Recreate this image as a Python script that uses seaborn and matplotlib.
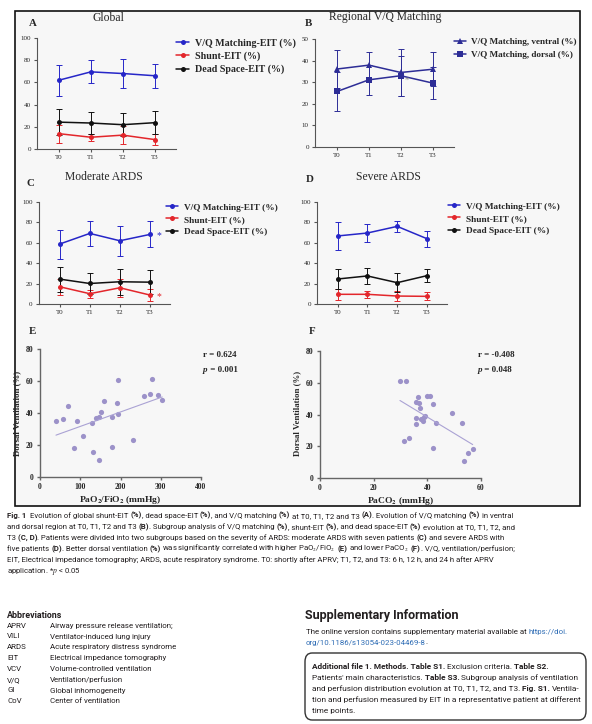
import numpy as np
import seaborn as sns
import matplotlib.pyplot as plt
from matplotlib.patches import Rectangle, FancyBboxPatch
from matplotlib.font_manager import FontProperties

W, H = 592, 724

# ---- chart data ----
times = ['T0', 'T1', 'T2', 'T3']

# A  global
glob_vq = [62.0, 69.5, 68.0, 66.0]
glob_vq_sd = [14.0, 10.3, 13.3, 10.8]
glob_shunt = [13.8, 10.6, 12.5, 8.5]
glob_shunt_sd = [8.0, 3.3, 8.0, 5.3]
glob_dead = [24.2, 23.4, 21.9, 23.7]
glob_dead_sd = [11.4, 9.8, 10.2, 10.3]

# B  regional V/Q matching
ventral = [36.1, 37.9, 34.5, 36.0]
ventral_sd = [9.0, 6.2, 10.8, 7.8]
dorsal = [25.7, 31.1, 33.0, 29.6]
dorsal_sd = [9.0, 7.0, 9.2, 7.3]

# C  moderate ARDS
mod_vq = [58.8, 69.2, 62.0, 68.2]
mod_vq_sd = [14.2, 12.0, 14.7, 12.8]
mod_shunt = [16.9, 10.1, 15.9, 8.8]
mod_shunt_sd = [7.8, 4.0, 8.8, 5.9]
mod_dead = [24.4, 20.1, 21.8, 21.4]
mod_dead_sd = [12.3, 10.1, 12.9, 11.7]

# D  severe ARDS
sev_vq = [66.7, 69.6, 76.1, 64.0]
sev_vq_sd = [13.5, 8.7, 5.5, 7.7]
sev_shunt = [9.5, 9.5, 7.8, 7.5]
sev_shunt_sd = [5.5, 3.5, 5.0, 4.0]
sev_dead = [24.5, 27.5, 20.9, 27.8]
sev_dead_sd = [9.8, 7.9, 9.5, 6.4]

# E  dorsal ventilation vs PaO2/FiO2
pf_ratio = [39.7, 56, 68.7, 91.8, 84.4, 105.9, 128.2, 131.5, 138.1, 146.4, 147.2, 150.5,
            158, 179.5, 177.8, 191.9, 192.7, 193.5, 230.8, 258.9, 272.1, 277.9, 292.8, 303.6]
dorsal_e = [34.9, 36, 44.1, 34.9, 18.2, 25.5, 33.6, 15.9, 37, 37.4, 10.4, 40.9,
            47.4, 37.8, 18.8, 46.4, 60.8, 39.1, 23.2, 50.8, 51.6, 61, 51.2, 48]

# F  dorsal ventilation vs PaCO2
paco2 = [29.8, 32, 31.3, 33, 35.7, 35.7, 35.8, 36.6, 36.8, 37.4, 37.6, 38.4,
         38.6, 39.1, 39.9, 41, 42.2, 42.1, 43.2, 49.1, 52.9, 53.5, 55.2, 56.9]
dorsal_f = [61.2, 60.8, 23.2, 25.5, 33.8, 37.6, 48, 50.8, 47.4, 44.3, 37, 36.1,
            38.2, 39.1, 51.8, 51.6, 46.4, 18.6, 34.9, 40.9, 34.9, 10.7, 15.9, 18.2]

stats_e = ['r = 0.624', '0.001']
stats_f = ['r = -0.408', '0.048']

# ---- page text ----
caption = [
    "**Fig. 1**  Evolution of global shunt-EIT **(%)**, dead space-EIT **(%)**, and V/Q matching **(%)** at T0, T1, T2 and T3 **(A)**. Evolution of V/Q matching **(%)** in ventral",
    "and dorsal region at T0, T1, T2 and T3 **(B)**. Subgroup analysis of V/Q matching **(%)**, shunt-EIT **(%)**, and dead space-EIT **(%)** evolution at T0, T1, T2, and",
    "T3 **(C, D)**. Patients were divided into two subgroups based on the severity of ARDS: moderate ARDS with seven patients **(C)** and severe ARDS with",
    "five patients **(D)**. Better dorsal ventilation **(%)** was significantly correlated with higher PaO$_2$/FiO$_2$ **(E)** and lower PaCO$_2$ **(F)**. V/Q, ventilation/perfusion;",
    "EIT, Electrical impedance tomography; ARDS, acute respiratory syndrome. T0: shortly after APRV; T1, T2, and T3: 6 h, 12 h, and 24 h after APRV",
    "application. *$p$ < 0.05",
]
abbr_keys = ['APRV', 'VILI', 'ARDS', 'EIT', 'VCV', 'V/Q', 'GI', 'CoV']
abbr_vals = ['Airway pressure release ventilation;', 'Ventilator-induced lung injury',
             'Acute respiratory distress syndrome', 'Electrical impedance tomography',
             'Volume-controlled ventilation', 'Ventilation/perfusion',
             'Global inhomogeneity', 'Center of ventilation']
supp_text = ["The online version contains supplementary material available at ", "https://doi.",
             "org/10.1186/s13054-023-04469-8", "."]
box_lines = [
    "**Additional file 1. Methods. Table S1.** Exclusion criteria. **Table S2.**",
    "Patients' main characteristics. **Table S3.** Subgroup analysis of ventilation",
    "and perfusion distribution evolution at T0, T1, T2, and T3. **Fig. S1.** Ventila-",
    "tion and perfusion measured by EIT in a representative patient at different",
    "time points.",
]

# ---- style ----
sns.set_style('ticks')
SERIF = ['Liberation Serif', 'DejaVu Serif']
SANS = ['Liberation Sans Narrow', 'Roboto', 'DejaVu Sans']
plt.rcParams['font.family'] = SERIF
plt.rcParams['mathtext.fontset'] = 'stix'

BLUE = '#2626c8'
RED = '#e3262b'
BLACK = '#111111'
NAVY = '#2d2d96'
LAV = '#9c92c9'
INK = '#231f20'

fig = plt.figure(figsize=(W / 100, H / 100), dpi=100)
renderer = fig.canvas.get_renderer()

fig.add_artist(Rectangle((15 / W, 1 - 506 / H), 565 / W, 495 / H, transform=fig.transFigure,
                         facecolor='#f7f7f7', edgecolor='#111111', lw=1.2, zorder=-5))


def measure(s, size, weight='normal', family=SANS, style='normal'):
    prop = FontProperties(family=family, size=size, weight=weight, style=style)

    def w(t):
        return renderer.get_text_width_height_descent(t, prop, ismath='$' in t)[0]
    return w('|' + s + '|') - w('||')


def parse(line, color=INK):
    return [(seg, 'bold' if i % 2 else 'normal', color)
            for i, seg in enumerate(line.split('**')) if seg]


def rich(x, y, segs, size, family=SANS):
    for seg, weight, color in segs:
        body = seg.lstrip()
        x += measure(seg[:len(seg) - len(body)], size, weight, family) if body != seg else 0
        if body:
            fig.text(x / W, 1 - y / H, body, fontsize=size, fontweight=weight, family=family,
                     color=color, ha='left', va='baseline')
        x += measure(body, size, weight, family)


def fit(segs, target, family=SANS):
    width = sum(measure(s, 10, w, family) for s, w, c in segs)
    return 10 * target / width


def px_axes(l, t, r, b):
    ax = fig.add_axes([l / W, 1 - b / H, (r - l) / W, (b - t) / H])
    ax.patch.set_alpha(0)
    return ax


def style_axes(ax, color='#555555', lw=0.8, labelsize=5, weight='normal'):
    sns.despine(ax=ax)
    for s in ['left', 'bottom']:
        ax.spines[s].set_color(color)
        ax.spines[s].set_linewidth(lw)
    ax.tick_params(length=2.5, width=lw, color=color, labelsize=labelsize, pad=2)
    for lab in ax.get_xticklabels() + ax.get_yticklabels():
        lab.set_fontweight(weight)
    ax.set_xlabel('')
    ax.set_ylabel('')


def line_panel(rect, series, ymax, ystep, legend_xy, legend_size, spacing):
    ax = px_axes(*rect)
    x = np.arange(len(times))
    for name, mean, sd, color, marker, ms in series:
        ax.errorbar(x, mean, yerr=sd, fmt='none', ecolor=color, elinewidth=0.7,
                    capsize=2, capthick=0.7, zorder=2)
        sns.lineplot(x=x, y=mean, ax=ax, color=color, marker=marker, markersize=ms,
                     markeredgewidth=0, linewidth=1.1, label=name, errorbar=None, zorder=3)
    ax.set_xlim(-0.69, 3.67)
    ax.set_ylim(0, ymax)
    ax.set_xticks(x, times)
    ax.set_yticks(np.arange(0, ymax + 1, ystep))
    style_axes(ax)
    ax.legend(loc='upper left', bbox_to_anchor=(legend_xy[0] / W, 1 - legend_xy[1] / H),
              bbox_transform=fig.transFigure, frameon=False, borderpad=0, borderaxespad=0,
              handlelength=1.3, handletextpad=0.6, labelspacing=spacing,
              prop=FontProperties(family=SERIF, weight='bold', size=legend_size))
    return ax


def scatter_panel(rect, x, y, xmax, xstep, stats, stat_x, xlabel, xlabel_xy, ylabel_x):
    ax = px_axes(*rect)
    sns.regplot(x=x, y=y, ax=ax, ci=None, color=LAV,
                scatter_kws={'s': 14, 'linewidths': 0, 'alpha': 1},
                line_kws={'lw': 0.8, 'color': '#aaa2d4'})
    ax.set_xlim(0, xmax)
    ax.set_ylim(0, 80)
    ax.set_xticks(np.arange(0, xmax + 1, xstep))
    ax.set_yticks(np.arange(0, 81, 20))
    style_axes(ax, color='#666666', lw=1.0, labelsize=5.5, weight='bold')
    fig.text(xlabel_xy[0] / W, 1 - xlabel_xy[1] / H, xlabel, ha='center', va='center',
             fontsize=6.8, fontweight='bold')
    fig.text(ylabel_x / W, 1 - 413 / H, 'Dorsal Ventilation (%)', rotation=90,
             ha='center', va='center', fontsize=6.3, fontweight='bold')
    fig.text(stat_x / W, 1 - 357 / H, stats[0], fontsize=6.5, fontweight='bold', va='baseline')
    fig.text(stat_x / W, 1 - 372 / H, 'p', fontsize=6.5, fontweight='bold', style='italic',
             va='baseline')
    px = stat_x + measure('p', 6.5, 'bold', SERIF, 'italic')
    fig.text(px / W, 1 - 372 / H, ' = ' + stats[1], fontsize=6.5, fontweight='bold',
             va='baseline')
    return ax


# ---- panels ----
ax_a = line_panel((37, 38, 176, 149),
                  [('V/Q Matching-EIT (%)', glob_vq, glob_vq_sd, BLUE, 'o', 3.6),
                   ('Shunt-EIT (%)', glob_shunt, glob_shunt_sd, RED, 'o', 3.6),
                   ('Dead Space-EIT (%)', glob_dead, glob_dead_sd, BLACK, 'o', 3.6)],
                  100, 20, (176, 38), 7.2, 0.38)

ax_b = line_panel((315, 39, 454, 147),
                  [('V/Q Matching, ventral (%)', ventral, ventral_sd, NAVY, '^', 4.2),
                   ('V/Q Matching, dorsal (%)', dorsal, dorsal_sd, NAVY, 's', 4.2)],
                  50, 10, (454, 38), 6.6, 0.45)
ax_b.text(2.2, 30.6, '*', color='#888888', fontsize=6, ha='center', va='center')

ax_c = line_panel((39, 202, 170, 304),
                  [('V/Q Matching-EIT (%)', mod_vq, mod_vq_sd, BLUE, 'o', 3.6),
                   ('Shunt-EIT (%)', mod_shunt, mod_shunt_sd, RED, 'o', 3.6),
                   ('Dead Space-EIT (%)', mod_dead, mod_dead_sd, BLACK, 'o', 3.6)],
                  100, 20, (166, 203), 6.7, 0.4)
ax_c.text(3.3, 67.5, '*', color=BLUE, fontsize=7, ha='center', va='center')
ax_c.text(3.3, 7.0, '*', color=RED, fontsize=7, ha='center', va='center')

ax_d = line_panel((317, 202, 447, 304),
                  [('V/Q Matching-EIT (%)', sev_vq, sev_vq_sd, BLUE, 'o', 3.6),
                   ('Shunt-EIT (%)', sev_shunt, sev_shunt_sd, RED, 'o', 3.6),
                   ('Dead Space-EIT (%)', sev_dead, sev_dead_sd, BLACK, 'o', 3.6)],
                  100, 20, (448, 202), 6.7, 0.4)

ax_e = scatter_panel((40, 349, 201, 477), pf_ratio, dorsal_e, 400, 100, stats_e, 203,
                     'PaO$_\\mathbf{2}$/FiO$_\\mathbf{2}$ (mmHg)', (120, 500), 17)
ax_f = scatter_panel((320, 351, 481, 478), paco2, dorsal_f, 60, 20, stats_f, 478,
                     'PaCO$_\\mathbf{2}$ (mmHg)', (400, 501), 297)

# titles and panel letters
for txt, x, y in [('Global', 108, 18), ('Regional V/Q Matching', 385, 17),
                  ('Moderate ARDS', 104, 177), ('Severe ARDS', 388, 177)]:
    fig.text(x / W, 1 - y / H, txt, ha='center', va='center', fontsize=8.4)
for txt, x, y in [('A', 33, 24), ('B', 308, 23), ('C', 30, 183), ('D', 310, 180),
                  ('E', 32, 331), ('F', 312, 331)]:
    fig.text(x / W, 1 - y / H, txt, ha='center', va='center', fontsize=7.8, fontweight='bold')

# ---- caption ----
cap_segs = [parse(line) for line in caption]
cap_size = fit(cap_segs[0], 506)
for i, segs in enumerate(cap_segs):
    rich(7, 517.7 + i * 11.15, segs, cap_size)

# ---- abbreviations ----
abbr_size = fit([(abbr_vals[2], 'normal', INK)], 128)
rich(7, 618, [('Abbreviations', 'bold', INK)], fit([('Abbreviations', 'bold', INK)], 56))
for i, (k, v) in enumerate(zip(abbr_keys, abbr_vals)):
    rich(7, 627.7 + i * 10.8, [(k, 'normal', INK)], abbr_size)
    rich(50, 627.7 + i * 10.8, [(v, 'normal', INK)], abbr_size)

# ---- supplementary information ----
title_seg = [('Supplementary Information', 'bold', INK)]
rich(305, 619, title_seg, fit(title_seg, 155))
LINK = '#2f6db5'
line1 = [(supp_text[0], 'normal', INK), (supp_text[1], 'normal', LINK)]
supp_size = fit(line1, 264)
rich(305.5, 634, line1, supp_size)
rich(305.5, 644.5, [(supp_text[2], 'normal', LINK), (supp_text[3], 'normal', INK)], supp_size)

fig.add_artist(FancyBboxPatch((305 / W, 1 - 720 / H), 281 / W, 67 / H,
                              boxstyle='round,pad=0,rounding_size=0.012',
                              transform=fig.transFigure, facecolor='white',
                              edgecolor='#333333', lw=1.0, zorder=-4))
box_segs = [parse(line) for line in box_lines]
box_size = fit(box_segs[0], 241)
for i, segs in enumerate(box_segs):
    rich(312, 669.4 + i * 10.85, segs, box_size)

fig.savefig('out.png', dpi=100)
